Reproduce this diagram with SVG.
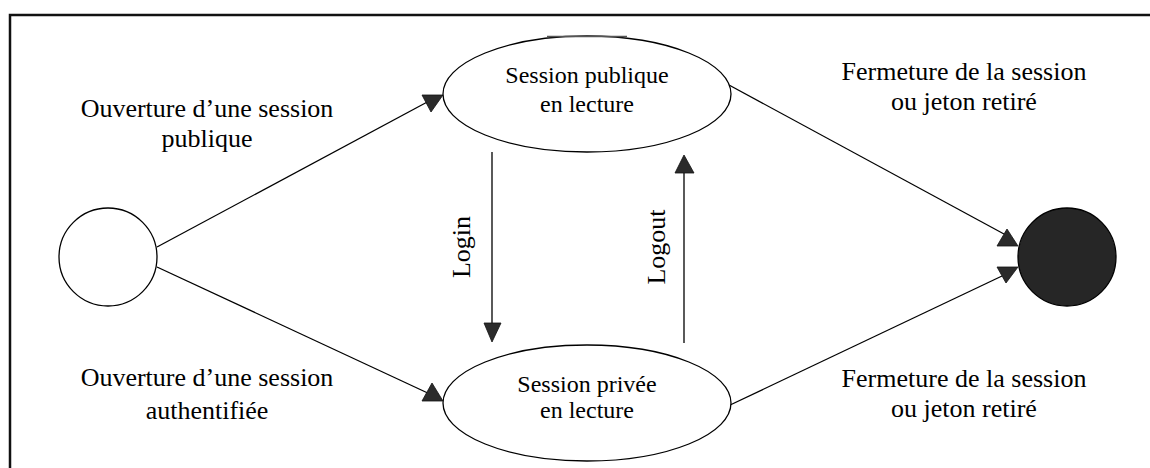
<svg xmlns="http://www.w3.org/2000/svg" width="1150" height="468" viewBox="0 0 1150 468">
  <style>
    .label { font-family: "Liberation Serif", "Times New Roman", serif; font-size: 26px; fill: #000; text-anchor: middle; }
    .state-text { font-family: "Liberation Serif", "Times New Roman", serif; font-size: 24px; fill: #000; text-anchor: middle; }
    .state { fill: #fff; stroke: #000; stroke-width: 1.3; }
    .edge { fill: none; stroke: #000; stroke-width: 1.3; }
    .head { fill: #2b2b2b; stroke: #111; stroke-width: 0.8; }
  </style>

  <rect width="1150" height="468" fill="#fff"/>
  <!-- outer frame (right and bottom sides run off the page) -->
  <rect x="10" y="15" width="1200" height="500" fill="none" stroke="#111" stroke-width="2.5"/>

  <g id="connectors">
    <!-- start to public session -->
    <line class="edge" x1="157" y1="247" x2="431" y2="100"/>
    <polygon class="head" points="422,95 443,95 431,112"/>
    <!-- start to private session -->
    <line class="edge" x1="157" y1="267" x2="432" y2="395"/>
    <polygon class="head" points="432,383 422,401 443,401"/>
    <!-- login -->
    <line class="edge" x1="492" y1="152" x2="492" y2="336"/>
    <polygon class="head" points="484,323 501,323 492,342"/>
    <!-- logout -->
    <line class="edge" x1="684" y1="343" x2="684" y2="160"/>
    <polygon class="head" points="684,155 675,173 694,173"/>
    <!-- public session to end -->
    <line class="edge" x1="729" y1="85" x2="1004" y2="234"/>
    <polygon class="head" points="1007,229 997,246 1018,246"/>
    <!-- private session to end -->
    <line class="edge" x1="728" y1="406" x2="1002" y2="276"/>
    <polygon class="head" points="997,267 1018,267 1006,283"/>
  </g>

  <g id="start">
    <circle cx="108" cy="257" r="49" class="state"/>
  </g>

  <g id="end">
    <circle cx="1067" cy="257" r="49" fill="#262626" stroke="#000" stroke-width="1.3"/>
  </g>

  <g id="public-session">
    <ellipse cx="587" cy="94" rx="144" ry="58" class="state"/>
    <!-- flattened crown of the outline -->
    <line x1="547" y1="36.5" x2="627" y2="36.5" stroke="#555" stroke-width="1.6"/>
    <text class="state-text" x="587" y="83">Session publique</text>
    <text class="state-text" x="587" y="112">en lecture</text>
  </g>

  <g id="private-session">
    <ellipse cx="587" cy="403" rx="144" ry="58" class="state"/>
    <text class="state-text" x="587" y="392">Session privée</text>
    <text class="state-text" x="587" y="418">en lecture</text>
  </g>

  <g id="labels">
    <text class="label" x="207" y="117">Ouverture d’une session</text>
    <text class="label" x="207" y="147">publique</text>
    <text class="label" x="207" y="386">Ouverture d’une session</text>
    <text class="label" x="207" y="419">authentifiée</text>
    <text class="label" x="964" y="80">Fermeture de la session</text>
    <text class="label" x="964" y="110">ou jeton retiré</text>
    <text class="label" x="964" y="387">Fermeture de la session</text>
    <text class="label" x="964" y="417">ou jeton retiré</text>
    <text class="label" transform="translate(470 247) rotate(-90)">Login</text>
    <text class="label" transform="translate(665 247) rotate(-90)">Logout</text>
  </g>
</svg>
